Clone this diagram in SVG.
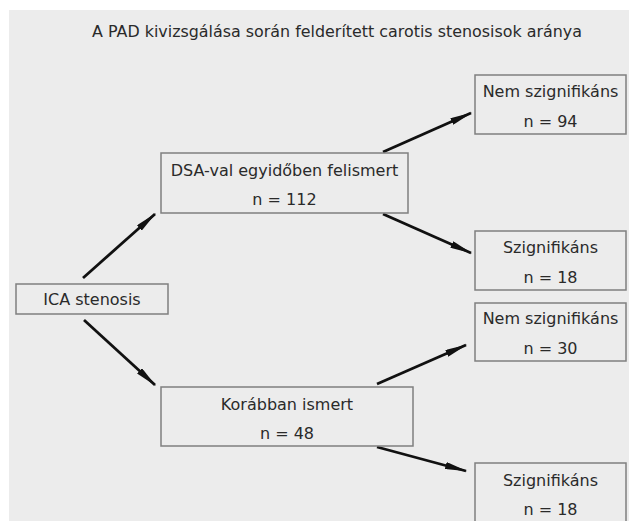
<svg xmlns="http://www.w3.org/2000/svg" width="629" height="521" viewBox="0 0 629 521">
<style>
.box{fill:#ececec;stroke:#7f7f7f;stroke-width:1.5}
.t{font-family:"DejaVu Sans","Verdana",sans-serif;font-size:16px;fill:#2a2a2a;text-anchor:middle}
.c{stroke:#111;stroke-width:2.8;fill:none;marker-end:url(#ah)}
</style>
<defs>
<marker id="ah" markerWidth="8" markerHeight="2.6" refX="7.5" refY="1.3" orient="auto" markerUnits="strokeWidth">
<path d="M0,0 L8,1.3 L0,2.6 Z" fill="#111"/>
</marker>
</defs>
<rect x="0" y="0" width="629" height="521" fill="#ffffff"/>
<rect x="9" y="10" width="620" height="511" fill="#ececec"/>
<text class="t" x="337" y="37" style="font-size:15.9px">A PAD kivizsgálása során felderített carotis stenosisok aránya</text>
<g id="connectors">
<line class="c" x1="83" y1="278" x2="155" y2="214"/>
<line class="c" x1="84" y1="320" x2="155" y2="385"/>
<line class="c" x1="383" y1="152" x2="471" y2="113"/>
<line class="c" x1="383" y1="214" x2="471" y2="253"/>
<line class="c" x1="377" y1="384" x2="466" y2="345"/>
<line class="c" x1="377" y1="447" x2="466" y2="471"/>
</g>
<g id="ica">
<rect class="box" x="16" y="284" width="152" height="30"/>
<text class="t" x="92" y="305">ICA stenosis</text>
</g>
<g id="dsa">
<rect class="box" x="161" y="153" width="247" height="60"/>
<text class="t" x="284.5" y="176">DSA-val egyidőben felismert</text>
<text class="t" x="284.5" y="205">n = 112</text>
</g>
<g id="korabban">
<rect class="box" x="161" y="387" width="252" height="59"/>
<text class="t" x="287" y="410">Korábban ismert</text>
<text class="t" x="287" y="439">n = 48</text>
</g>
<g id="nem94">
<rect class="box" x="475" y="75" width="151" height="59"/>
<text class="t" x="550.5" y="97">Nem szignifikáns</text>
<text class="t" x="550.5" y="127">n = 94</text>
</g>
<g id="szig18a">
<rect class="box" x="475" y="231" width="151" height="59"/>
<text class="t" x="550.5" y="253">Szignifikáns</text>
<text class="t" x="550.5" y="283">n = 18</text>
</g>
<g id="nem30">
<rect class="box" x="475" y="303" width="151" height="58"/>
<text class="t" x="550.5" y="324">Nem szignifikáns</text>
<text class="t" x="550.5" y="354">n = 30</text>
</g>
<g id="szig18b">
<rect class="box" x="475" y="463" width="151" height="62"/>
<text class="t" x="550.5" y="486">Szignifikáns</text>
<text class="t" x="550.5" y="515">n = 18</text>
</g>
</svg>
